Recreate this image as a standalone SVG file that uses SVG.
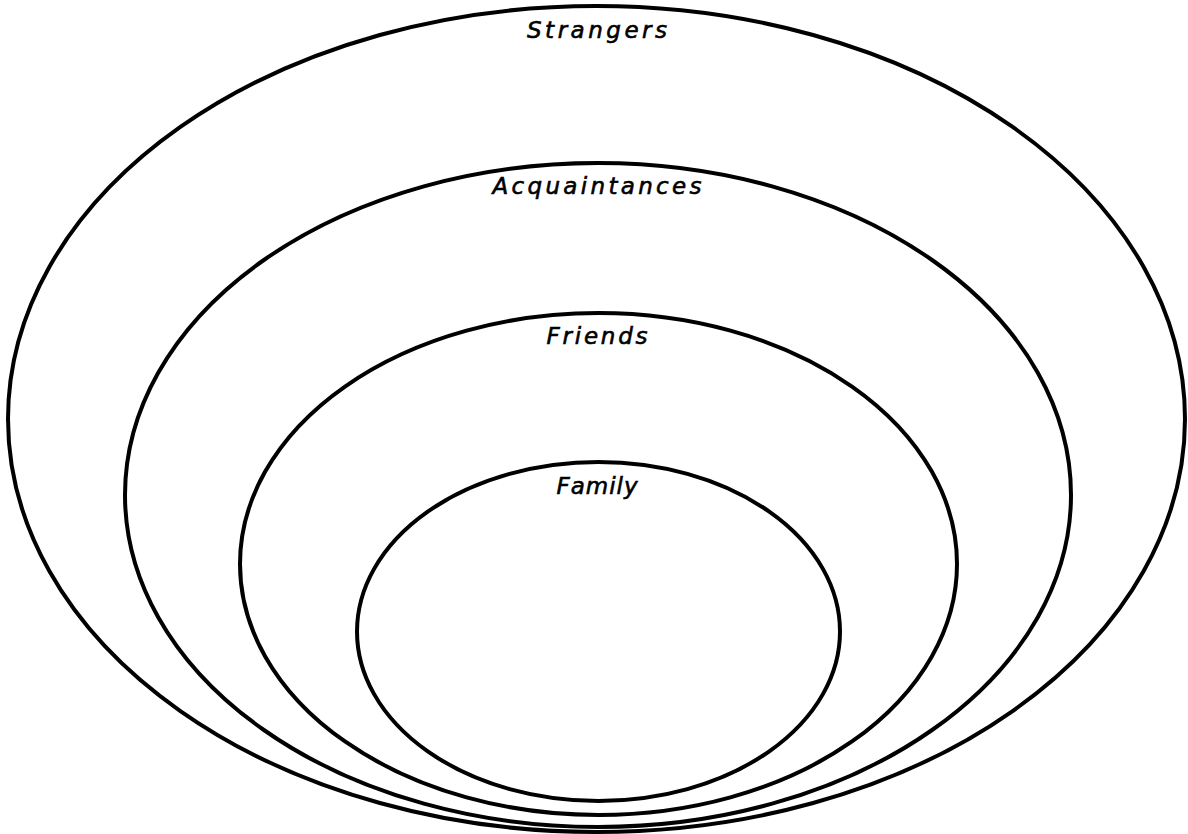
<svg xmlns="http://www.w3.org/2000/svg" width="1188" height="834" viewBox="0 0 1188 834">
<style>
.ring{fill:none;stroke:#000;stroke-width:4}
.lbl{font-family:"DejaVu Sans","Liberation Sans",sans-serif;font-style:italic;font-size:23px;fill:#000;stroke:#000;stroke-width:0.6;text-anchor:middle}
</style>
<rect width="1188" height="834" fill="#fff"/>
<g id="strangers">
<ellipse class="ring" cx="596.5" cy="419" rx="588.5" ry="413"/>
<text class="lbl" x="597" y="38" textLength="140" lengthAdjust="spacing">Strangers</text>
</g>
<g id="acquaintances">
<ellipse class="ring" cx="598" cy="495" rx="473" ry="332"/>
<text class="lbl" x="597" y="194" textLength="209" lengthAdjust="spacing">Acquaintances</text>
</g>
<g id="friends">
<ellipse class="ring" cx="598.5" cy="564" rx="358.5" ry="251"/>
<text class="lbl" x="597" y="344" textLength="101" lengthAdjust="spacing">Friends</text>
</g>
<g id="family">
<ellipse class="ring" cx="598.5" cy="631.5" rx="241.5" ry="169.5"/>
<text class="lbl" x="597" y="494" textLength="81" lengthAdjust="spacing">Family</text>
</g>
<g id="connectors"></g>
</svg>
